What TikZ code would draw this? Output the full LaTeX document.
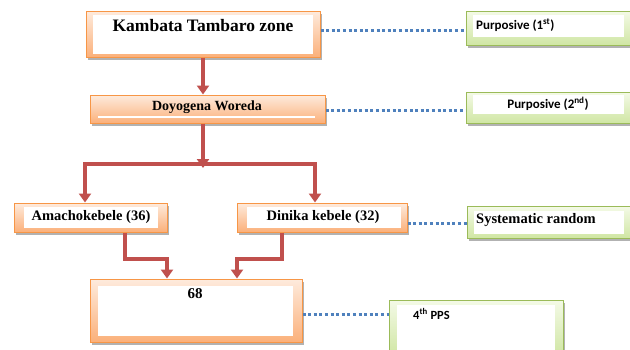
\documentclass[tikz,border=0pt]{standalone}
\usepackage{fontspec}
\setmainfont{Liberation Serif}
\newfontfamily\carlito{Carlito}
\usetikzlibrary{arrows.meta,shadows}
\definecolor{orline}{HTML}{F79646}
\definecolor{ortop}{HTML}{FEEBDD}
\definecolor{orbot}{HTML}{FBB07A}
\definecolor{grline}{HTML}{9BBB59}
\definecolor{grtop}{HTML}{F4FAE7}
\definecolor{grbot}{HTML}{D0E6A4}
\definecolor{redc}{HTML}{C0504D}
\definecolor{bluec}{HTML}{4F81BD}
\tikzset{
  obox/.style={draw=orline, line width=1pt, top color=ortop, bottom color=orbot,
    inner sep=0pt, drop shadow={shadow xshift=2pt, shadow yshift=-2.5pt, opacity=0.3, fill=black}},
  gbox/.style={draw=grline, line width=1pt, top color=grtop, bottom color=grbot,
    inner sep=0pt, drop shadow={shadow xshift=2pt, shadow yshift=-2.5pt, opacity=0.3, fill=black}},
  inwhite/.style={fill=white},
  serif/.style={font=\bfseries, inner sep=0pt},
  sans/.style={font=\carlito\bfseries, inner sep=0pt},
  conn/.style={draw=redc, line width=3.2pt},
  tip/.style={-{Triangle[width=12pt,length=9pt]}},
  dots/.style={draw=bluec, line width=3pt, dash pattern=on 3pt off 2.6pt},
}
\begin{document}
\begin{tikzpicture}[x=1pt,y=-1pt]
\path[use as bounding box, fill=white] (0,0) rectangle (630,349);

% orange boxes
\node[obox, minimum width=234pt, minimum height=46pt] (kz) at (203,34) {};
\fill[inwhite] ([shift={(7,4)}]kz.north west) rectangle ([shift={(-8,-4)}]kz.south east);
\node[serif, font=\fontsize{17.5}{20}\selectfont\bfseries] (kzt) at (203,26) {Kambata Tambaro zone};

\node[obox, minimum width=235pt, minimum height=28pt] (doy) at (207.5,109) {};
\fill[inwhite] (98,115.5) rectangle (315,118);
\node[serif, font=\fontsize{14}{16}\selectfont\bfseries] (doyt) at (207,107) {Doyogena Woreda};

\node[obox, minimum width=153pt, minimum height=29pt] (am) at (90.5,217.5) {};
\fill[inwhite] ([shift={(10,4)}]am.north west) rectangle ([shift={(-10,-5)}]am.south east);
\node[serif, font=\fontsize{14.5}{17}\selectfont\bfseries] (amt) at (91,217) {Amachokebele (36)};

\node[obox, minimum width=170pt, minimum height=29pt] (din) at (322,217.5) {};
\fill[inwhite] ([shift={(10,4)}]din.north west) rectangle ([shift={(-7,-5)}]din.south east);
\node[serif, font=\fontsize{14.5}{17}\selectfont\bfseries] (dint) at (323,217) {Dinika kebele (32)};

\node[obox, minimum width=212pt, minimum height=63pt] (b68) at (196,310.5) {};
\fill[inwhite] ([shift={(8,7)}]b68.north west) rectangle ([shift={(-10,-7)}]b68.south east);
\node[serif, font=\fontsize{15}{18}\selectfont\bfseries] (b68t) at (195,294) {68};

% green boxes
\node[gbox, minimum width=164pt, minimum height=34pt] (g1) at (548,28) {};
\fill[inwhite] ([shift={(7,4)}]g1.north west) rectangle ([shift={(-7,-9)}]g1.south east);
\node[sans, font=\fontsize{13}{15}\selectfont\carlito\bfseries, anchor=west] (g1t) at (476,25) {Purposive (1\textsuperscript{st})};

\node[gbox, minimum width=164pt, minimum height=31pt] (g2) at (548,107.5) {};
\fill[inwhite] ([shift={(7,3)}]g2.north west) rectangle ([shift={(-7,-10)}]g2.south east);
\node[sans, font=\fontsize{13}{15}\selectfont\carlito\bfseries] (g2t) at (548,104) {Purposive (2\textsuperscript{nd})};

\node[gbox, minimum width=163pt, minimum height=32pt] (g3) at (548.5,222) {};
\fill[inwhite] ([shift={(7,5)}]g3.north west) rectangle ([shift={(-7,-5)}]g3.south east);
\node[serif, font=\fontsize{14.5}{17}\selectfont\bfseries, anchor=west] (g3t) at (476,220) {Systematic random};

\node[gbox, minimum width=174pt, minimum height=55pt] (g4) at (476,327.5) {};
\fill[inwhite] ([shift={(8,5)}]g4.north west) rectangle ([shift={(-9,-5)}]g4.south east);
\node[sans, font=\fontsize{12.5}{15}\selectfont\carlito\bfseries, anchor=west] (g4t) at (413,314) {4\textsuperscript{th} PPS};

% red connectors
\draw[conn, tip] (kz.south) -- (kz.south |- doy.north);
\coordinate (jc) at (203,168);
\coordinate (jl) at (85,164);
\coordinate (jr) at (315,164);
\draw[conn, tip] (doy.south -| kz.south) -- (jc);
\draw[conn, {Triangle[width=12pt,length=9pt]}-{Triangle[width=12pt,length=9pt]}]
  (jl |- am.north) -- (jl) -- (jr) -- (jr |- din.north);
\coordinate (a1) at (125,259);
\coordinate (a2) at (167,259);
\coordinate (d1) at (282,259);
\coordinate (d2) at (237,259);
\draw[conn, tip] (a1 |- am.south) -- (a1) -- (a2) -- (a2 |- b68.north);
\draw[conn, tip] (d1 |- din.south) -- (d1) -- (d2) -- (d2 |- b68.north);

% dotted connectors
\draw[dots] (kz.east |- 0,30) -- (g1.west |- 0,30);
\draw[dots] (doy.east |- 0,110) -- (g2.west |- 0,110);
\draw[dots] (din.east |- 0,223) -- (g3.west |- 0,223);
\draw[dots] (b68.east |- 0,314) -- (g4.west |- 0,314);
\end{tikzpicture}
\end{document}
